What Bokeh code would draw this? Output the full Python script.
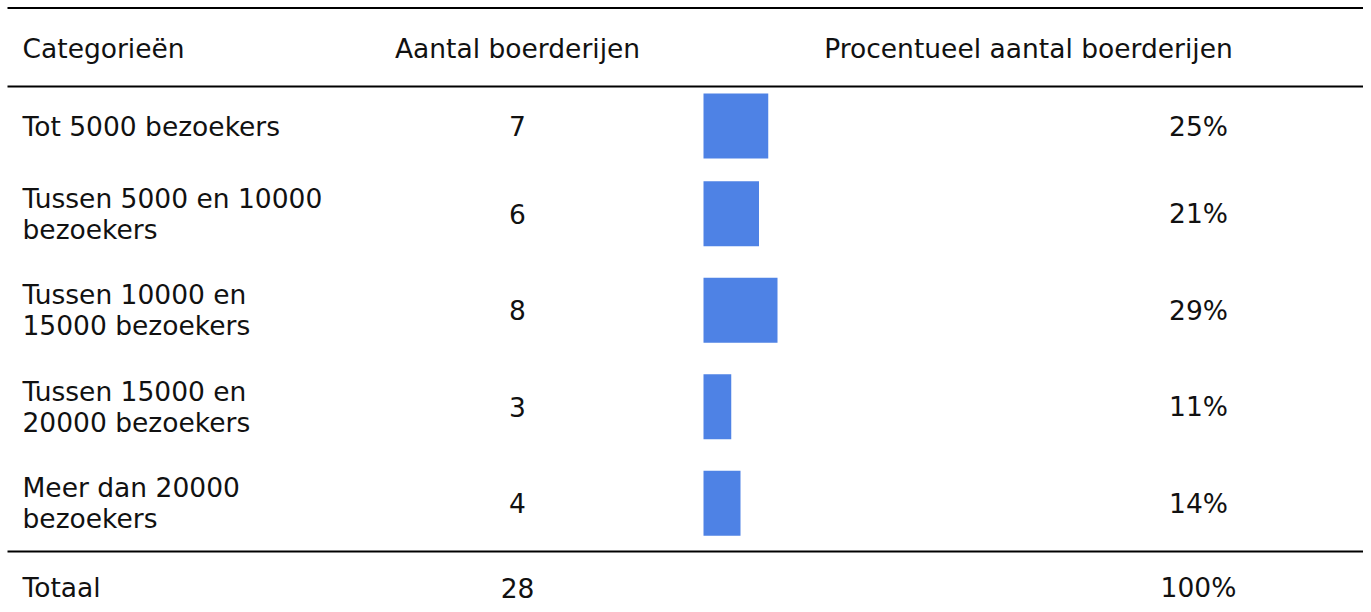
from bokeh.plotting import figure
from bokeh.models import Range1d, ColumnDataSource
from bokeh.core.properties import value
from bokeh.embed import file_html
from bokeh.resources import INLINE

# ---- data ----
headers = ["Categorieën", "Aantal boerderijen", "Procentueel aantal boerderijen"]
categories = [
    "Tot 5000 bezoekers",
    "Tussen 5000 en 10000\nbezoekers",
    "Tussen 10000 en\n15000 bezoekers",
    "Tussen 15000 en\n20000 bezoekers",
    "Meer dan 20000\nbezoekers",
]
counts = [7, 6, 8, 3, 4]
total_label = "Totaal"

# ---- derived ----
total = sum(counts)
shares = [c / total * 100 for c in counts]
share_labels = [f"{round(s)}%" for s in shares]

# ---- layout constants (pixel layout space, 1:1) ----
W, H = 1363, 604
FONT = value("DejaVu Sans")
FS = "26.5px"
TXT = "#111111"
BAR = "#4e82e5"
header_y = 48
header_line = 86
top_line = 7.5
row_h_single, row_h_double = 79, 96.5
bar_h = 65
line_x0 = 7
col_cat_x = 22
col_cnt_x = 517
col_pct_hdr_x = 1028
col_pct_x = 1198
bar_left_px, bar_full_px = 703, 259

# row centers from number of text lines
centers = []
y = header_line
for c in categories:
    h = row_h_double if "\n" in c else row_h_single
    centers.append(y + h / 2)
    y += h
bottom_line = y
total_y = bottom_line + 36

p = figure(width=W, height=H, output_backend="svg", toolbar_location=None,
           x_range=Range1d(0, W), y_range=Range1d(H, 0), min_border=0)
p.axis.visible = False
p.grid.visible = False
p.outline_line_color = None
p.background_fill_color = "white"
p.border_fill_color = "white"

# secondary x range for bar lengths (percent)
unit = bar_full_px / 100.0
p.extra_x_ranges = {"pct": Range1d(-bar_left_px / unit, (W - bar_left_px) / unit)}

# horizontal rules
ys = [top_line, header_line, bottom_line]
p.segment(x0=[line_x0] * 3, x1=[W] * 3, y0=ys, y1=ys,
          line_color="black", line_width=2.2)

# bars
src = ColumnDataSource(dict(y=centers, right=shares, left=[0] * len(shares)))
p.hbar(y="y", left="left", right="right", height=bar_h, source=src,
       x_range_name="pct", fill_color=BAR, line_color=None)

common = dict(text_font=FONT, text_font_size=FS, text_color=TXT,
              text_baseline="middle", text_line_height=1.0)

# headers
p.text(x=[col_cat_x], y=[header_y], text=[headers[0]], text_align="left", **common)
p.text(x=[col_cnt_x, col_pct_hdr_x], y=[header_y, header_y], text=headers[1:],
       text_align="center", **common)

# body
p.text(x=[col_cat_x] * len(categories), y=centers, text=categories,
       text_align="left", **common)
p.text(x=[col_cnt_x] * len(counts), y=centers, text=[str(c) for c in counts],
       text_align="center", **common)
p.text(x=[col_pct_x] * len(counts), y=centers, text=share_labels,
       text_align="center", **common)

# total row
p.text(x=[col_cat_x], y=[total_y], text=[total_label], text_align="left", **common)
p.text(x=[col_cnt_x, col_pct_x], y=[total_y, total_y],
       text=[str(total), f"{round(sum(shares))}%"], text_align="center", **common)

open("out.html", "w").write(file_html(p, INLINE))
